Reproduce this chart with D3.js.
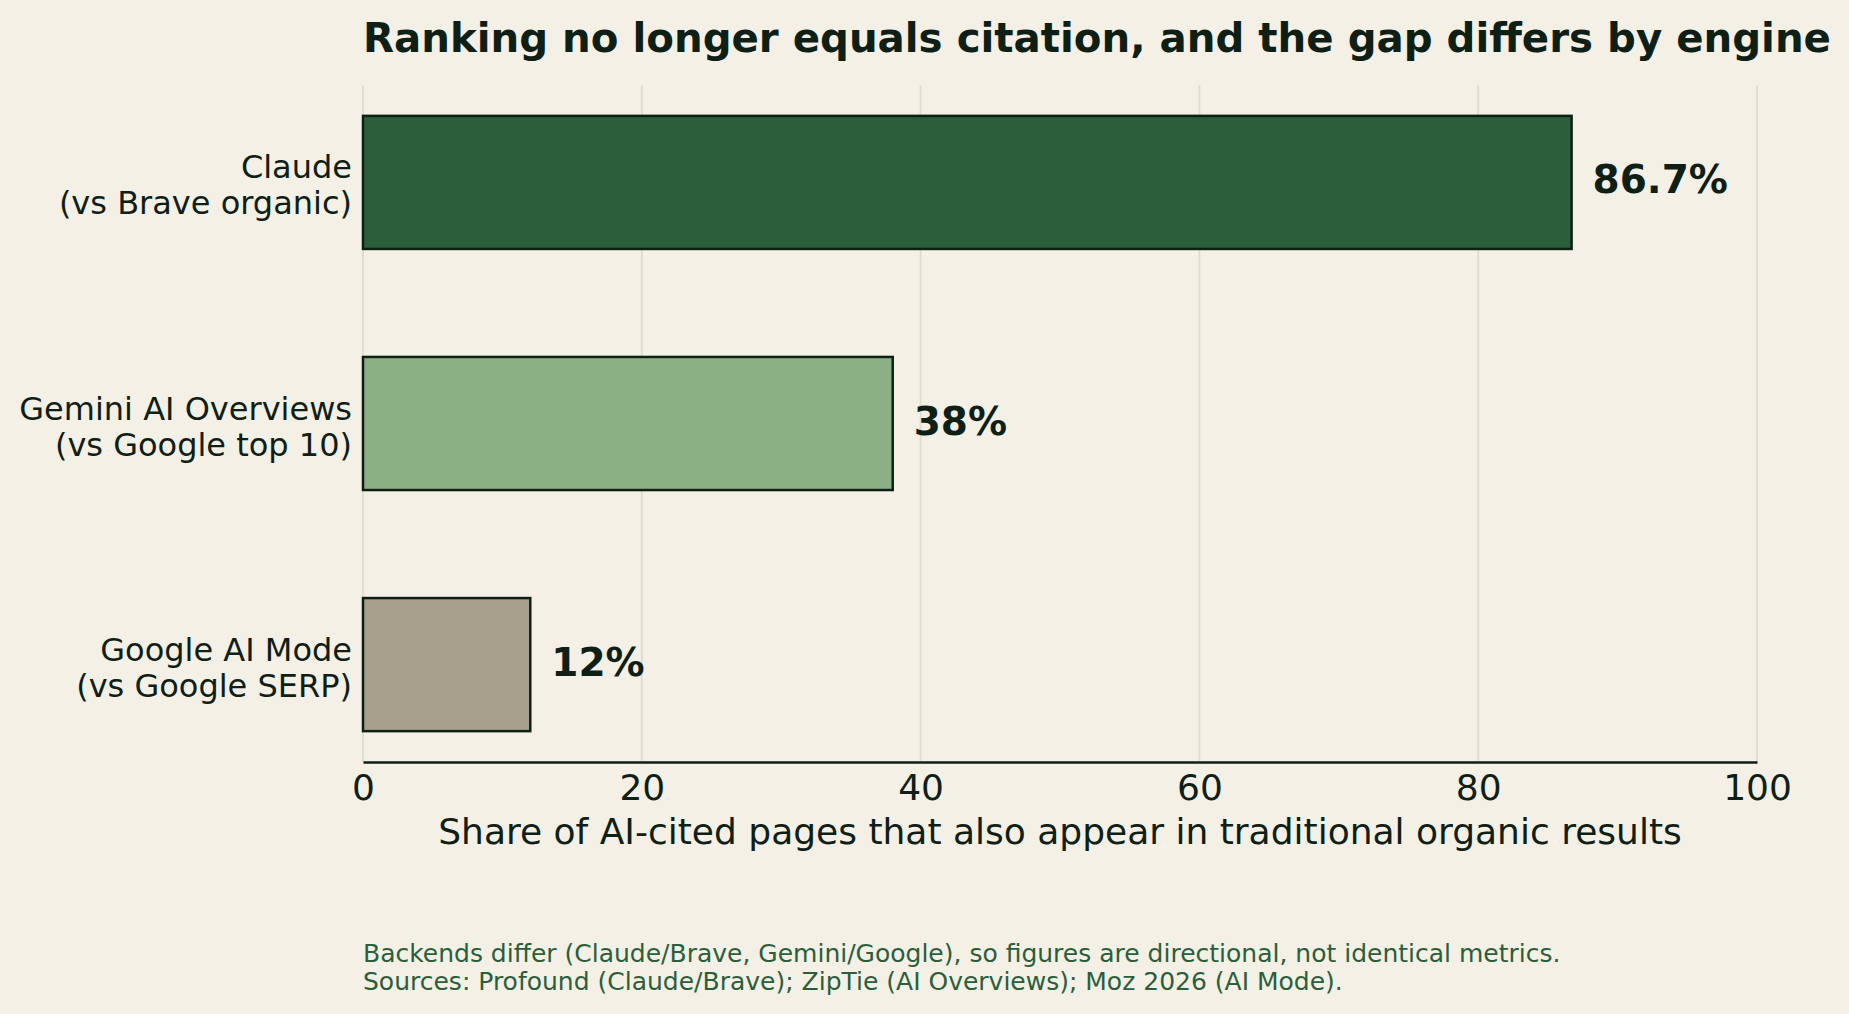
<!DOCTYPE html>
<html>
<head>
<meta charset="utf-8">
<script src="https://cdn.jsdelivr.net/npm/d3@7"></script>
<style>
  body { margin: 0; background: #f4f0e6; }
  text { font-family: "DejaVu Sans", sans-serif; }
</style>
</head>
<body>
<div id="chartDiv"></div>
<script>
// data
var engines = ["Claude", "Gemini AI Overviews", "Google AI Mode"];
var subLabels = ["(vs Brave organic)", "(vs Google top 10)", "(vs Google SERP)"];
var shares = [86.7, 38, 12];
var valueLabels = ["86.7%", "38%", "12%"];
var barColors = ["#2b5e3b", "#8bb084", "#a89f8c"];
var xTicks = [0, 20, 40, 60, 80, 100];
var footLines = [
    "Backends differ (Claude/Brave, Gemini/Google), so figures are directional, not identical metrics.",
    "Sources: Profound (Claude/Brave); ZipTie (AI Overviews); Moz 2026 (AI Mode)."
];

var data = engines.map(function(e, i) {
    return {label: e, sub: subLabels[i], value: shares[i], text: valueLabels[i], color: barColors[i]};
});

function displayChart(data, div) {
    var w = 1849, h = 1014;
    var ink = "#0e2016";

    // set the dimensions and margins of the graph
    var margin = {top: 85, right: 92, bottom: 252, left: 363},
        width = w - margin.left - margin.right,
        height = h - margin.top - margin.bottom;

    var root = d3.select(div)
        .append("svg")
        .attr("width", w)
        .attr("height", h)
        .style("background", "#f4f0e6");

    var svg = root.append("g")
        .attr("transform", "translate(" + margin.left + "," + margin.top + ")");

    // X scale
    var x = d3.scaleLinear()
        .domain([0, 100])
        .range([0, width]);

    // Y scale
    var y = d3.scaleBand()
        .range([0, height])
        .domain(data.map(function(d) { return d.label; }))
        .paddingInner(0.448)
        .paddingOuter(0.128);

    // grid
    svg.append("g")
        .selectAll("line")
        .data(xTicks)
        .enter()
        .append("line")
        .attr("x1", function(d) { return x(d); })
        .attr("x2", function(d) { return x(d); })
        .attr("y1", 0)
        .attr("y2", height)
        .attr("stroke", "#e2ddd1")
        .attr("stroke-width", 2);

    // x axis
    var xAxis = svg.append("g")
        .attr("transform", "translate(0," + height + ")")
        .call(d3.axisBottom(x).tickValues(xTicks).tickSize(0).tickPadding(12).tickFormat(d3.format("d")));
    xAxis.select(".domain").attr("stroke", ink).attr("stroke-width", 2.5);
    xAxis.selectAll("text")
        .attr("fill", ink)
        .style("font-size", "36px")
        .attr("dy", "0.71em");

    // y labels (two lines)
    var yl = svg.append("g")
        .selectAll("text")
        .data(data)
        .enter()
        .append("text")
        .attr("text-anchor", "end")
        .attr("fill", ink)
        .style("font-size", "32px")
        .attr("transform", function(d) {
            return "translate(-11," + (y(d.label) + y.bandwidth() / 2) + ")";
        });
    yl.append("tspan").attr("x", 0).attr("y", -4).text(function(d) { return d.label; });
    yl.append("tspan").attr("x", 0).attr("y", 32).text(function(d) { return d.sub; });

    // bars
    svg.selectAll("myRect")
        .data(data)
        .enter()
        .append("rect")
        .attr("x", x(0))
        .attr("y", function(d) { return y(d.label); })
        .attr("width", function(d) { return x(d.value) - x(0); })
        .attr("height", y.bandwidth())
        .attr("fill", function(d) { return d.color; })
        .attr("stroke", ink)
        .attr("stroke-width", 2.5);

    // value labels
    svg.selectAll("valText")
        .data(data)
        .enter()
        .append("text")
        .attr("x", function(d) { return x(d.value) + 21; })
        .attr("y", function(d) { return y(d.label) + y.bandwidth() / 2 + 11; })
        .attr("fill", ink)
        .style("font-size", "39px")
        .style("font-weight", "bold")
        .text(function(d) { return d.text; });

    // axis title
    svg.append("text")
        .attr("x", width / 2)
        .attr("y", height + 82)
        .attr("text-anchor", "middle")
        .attr("fill", ink)
        .style("font-size", "36px")
        .text("Share of AI-cited pages that also appear in traditional organic results");

    // title
    root.append("text")
        .attr("x", margin.left)
        .attr("y", 52)
        .attr("fill", ink)
        .style("font-size", "40.3px")
        .style("font-weight", "bold")
        .text("Ranking no longer equals citation, and the gap differs by engine");

    // footnote
    root.append("g")
        .selectAll("text")
        .data(footLines)
        .enter()
        .append("text")
        .attr("x", margin.left)
        .attr("y", function(d, i) { return 962 + i * 28; })
        .attr("fill", "#2b5e3b")
        .style("font-size", "25px")
        .text(function(d) { return d; });
}

displayChart(data, "#chartDiv");
</script>
</body>
</html>
